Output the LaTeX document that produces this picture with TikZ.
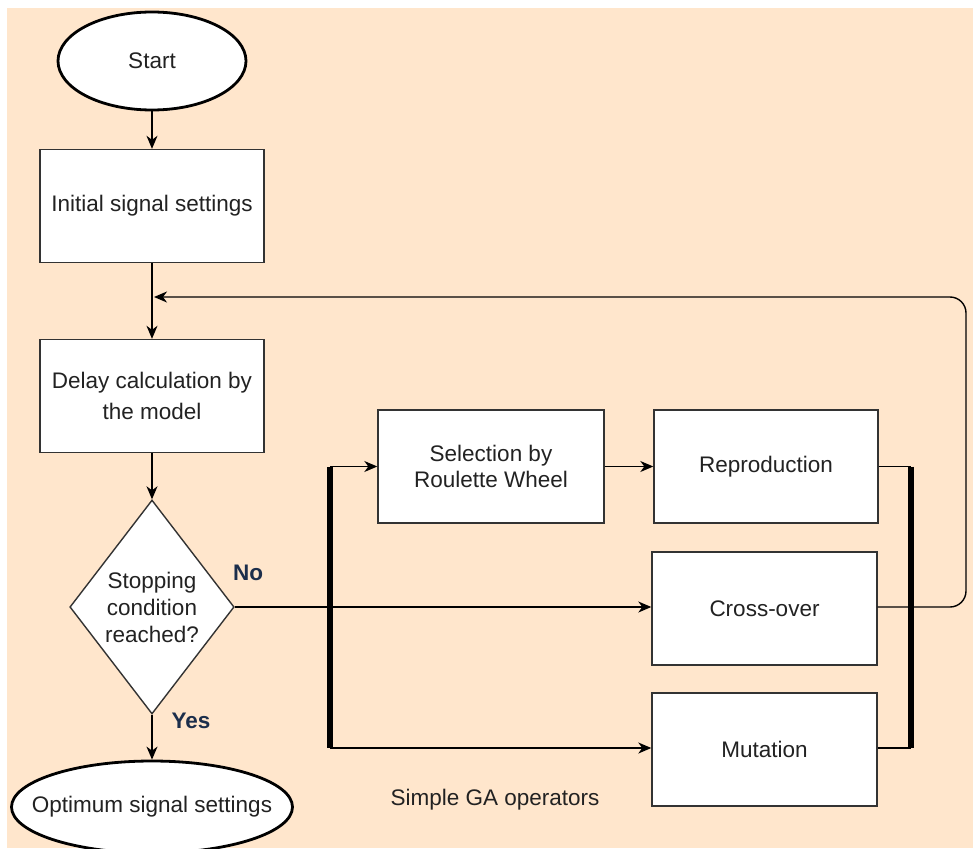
\documentclass[tikz,border=0pt]{standalone}
\usepackage{fontspec}
\setmainfont{Liberation Sans}
\usetikzlibrary{shapes.geometric,arrows.meta}
\definecolor{peach}{HTML}{FFE6CC}
\definecolor{txt}{HTML}{222222}
\definecolor{lbl}{HTML}{1C2E4B}
\definecolor{edge}{HTML}{333333}
\tikzset{
  every node/.style={font=\fontsize{22.5}{31}\selectfont, text=txt},
  procbox/.style={draw=edge, line width=1.4pt, fill=white, minimum width=225pt, minimum height=113pt, inner sep=0pt, align=center},
  term/.style={draw=black, line width=2.8pt, fill=white, ellipse, inner xsep=-30pt, inner ysep=0pt, align=center},
  decision/.style={draw=edge, line width=1.4pt, fill=white, diamond, minimum width=160pt, minimum height=214pt, inner sep=0pt, align=center},
  arr/.style={draw=black, line width=1.4pt, -{Stealth[length=13pt,width=11pt,inset=4pt]}},
  plain/.style={draw=black, line width=1.4pt},
  bar/.style={draw=black, line width=5.5pt},
  yn/.style={font=\fontsize{22.5}{27}\bfseries\selectfont, text=lbl}
}
\begin{document}
\begin{tikzpicture}[x=1pt,y=-1pt]
\useasboundingbox (0,0) rectangle (973,848);
\clip (0,0) rectangle (973,848);
\fill[peach] (7,8) rectangle (973,848);

\node[term, minimum width=188pt, minimum height=98pt] (start) at (152,61) {Start};
\node[procbox, minimum width=224pt] (init) at (152,206) {Initial signal settings};
\node[procbox, minimum width=224pt] (delay) at (152,396) {Delay calculation by\\the model};
\node[decision] (dec) at (152,607) {Stopping\\[-4pt]condition\\[-4pt]reached?};
\node[term, minimum width=281pt, minimum height=92pt] (opt) at (152,807) {Optimum signal settings};

\node[procbox, minimum width=226pt] (sel) at (491,466.5) {Selection by\\[-5pt]Roulette Wheel};
\node[procbox, minimum width=224pt] (rep) at (766,466.5) {Reproduction};
\node[procbox, minimum width=225pt] (cross) at (764.5,608.5) {Cross-over};
\node[procbox, minimum width=225pt] (mut) at (764.5,749.5) {Mutation};

\node (ga) at (495,800) {Simple GA operators};
\node[yn] (no) at (248,573) {No};
\node[yn] (yes) at (191,721) {Yes};

\coordinate (lt) at (330,466.5);
\coordinate (lb) at (330,748);
\coordinate (rt) at (911,466.5);
\coordinate (rb) at (911,748);
\coordinate (fb) at (154,297);

\draw[arr] (start) -- (init);
\draw[arr] (init.south) -- (delay.north);
\draw[arr] (delay) -- (dec.north);
\draw[arr] (dec.south) -- (opt);
\draw[arr] (dec.east) -- (cross.west |- dec.east);
\draw[arr] (lt) -- (sel.west);
\draw[arr] (lb) -- (mut.west |- lb);
\draw[arr] (sel.east) -- (rep.west);
\draw[plain] (rep.east) -- (rt);
\draw[plain] (mut.east |- rb) -- (rb);
\draw[bar] (lt) -- (lb);
\draw[bar] (rt) -- (rb);
\draw[arr, rounded corners=16pt] (cross.east |- dec.east) -- (966,607) -- (966,297) -- (fb);
\end{tikzpicture}
\end{document}
